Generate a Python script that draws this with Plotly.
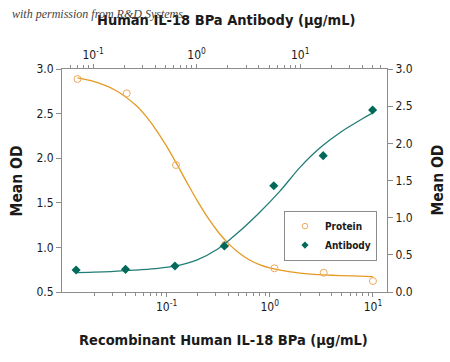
import plotly.graph_objects as go

# ---- data ----
protein_conc = [0.01372, 0.04115, 0.1235, 0.3704, 1.111, 3.333, 10.0]          # µg/mL, bottom axis
protein_od = [2.888, 2.727, 1.924, 1.03, 0.766, 0.716, 0.623]                   # left axis

antibody_conc = [0.0686, 0.2058, 0.6173, 1.852, 5.556, 16.67, 50.0]             # µg/mL, top axis
antibody_od = [0.296, 0.305, 0.35, 0.619, 1.43, 1.834, 2.448]                   # right axis

# fitted curves
protein_fit_x = [0.01372, 0.01995, 0.03162, 0.05012, 0.0631, 0.07943, 0.1, 0.1259, 0.1585,
                 0.1995, 0.2512, 0.3162, 0.3981, 0.5012, 0.631, 0.7943, 1.0, 1.585,
                 2.512, 3.981, 6.31, 10.0]
protein_fit_y = [2.90, 2.858, 2.765, 2.596, 2.471, 2.316, 2.135, 1.933, 1.723,
                 1.519, 1.333, 1.173, 1.042, 0.940, 0.862, 0.808, 0.770, 0.725,
                 0.700, 0.688, 0.680, 0.672]

antibody_fit_x = [0.0686, 0.1585, 0.2512, 0.3981, 0.631, 1.0, 1.585, 2.512, 3.981,
                  6.31, 10.0, 15.85, 25.12, 39.81, 50.0]
antibody_fit_y = [0.26, 0.278, 0.293, 0.315, 0.352, 0.43, 0.575, 0.80, 1.06,
                  1.35, 1.68, 1.95, 2.16, 2.33, 2.41]

series_names = ["Protein", "Antibody"]

bottom_major = [0.1, 1, 10]
bottom_major_text = ["10<sup>-1</sup>", "10<sup>0</sup>", "10<sup>1</sup>"]
bottom_minor = [0.02, 0.03, 0.04, 0.05, 0.06, 0.07, 0.08, 0.09,
                0.2, 0.3, 0.4, 0.5, 0.6, 0.7, 0.8, 0.9,
                2, 3, 4, 5, 6, 7, 8, 9]
top_major = [0.1, 1, 10]
top_major_text = ["10<sup>-1</sup>", "10<sup>0</sup>", "10<sup>1</sup>"]
top_minor = [0.06, 0.07, 0.08, 0.09,
             0.2, 0.3, 0.4, 0.5, 0.6, 0.7, 0.8, 0.9,
             2, 3, 4, 5, 6, 7, 8, 9,
             20, 30, 40, 50, 60]
left_ticks = [0.5, 1.0, 1.5, 2.0, 2.5, 3.0]
right_ticks = [0.0, 0.5, 1.0, 1.5, 2.0, 2.5, 3.0]

# ---- styling ----
FONT = "DejaVu Sans Condensed, Liberation Sans Narrow, Arial Narrow, sans-serif"
ORANGE_LINE = "#E59A22"
ORANGE_MK = "#EFA85A"
TEAL_LINE = "#217C77"
TEAL_MK = "#00695A"
AXIS = "#8C8C8C"
TXT = "#1a1a1a"

fig = go.Figure()

fig.add_trace(go.Scatter(x=protein_fit_x, y=protein_fit_y, mode="lines",
                         line=dict(color=ORANGE_LINE, width=1.3, shape="spline"),
                         xaxis="x", yaxis="y", showlegend=False, hoverinfo="skip"))
fig.add_trace(go.Scatter(x=antibody_fit_x, y=antibody_fit_y, mode="lines",
                         line=dict(color=TEAL_LINE, width=1.3, shape="spline"),
                         xaxis="x2", yaxis="y2", showlegend=False, hoverinfo="skip"))
fig.add_trace(go.Scatter(x=protein_conc, y=protein_od, mode="markers", name=series_names[0],
                         marker=dict(symbol="circle-open", size=7, color=ORANGE_MK,
                                     line=dict(width=1, color=ORANGE_MK)),
                         xaxis="x", yaxis="y", showlegend=False))
fig.add_trace(go.Scatter(x=antibody_conc, y=antibody_od, mode="markers", name=series_names[1],
                         marker=dict(symbol="diamond", size=7, color=TEAL_MK,
                                     line=dict(width=0)),
                         xaxis="x2", yaxis="y2", showlegend=False))

# legend-only entries with the smaller symbols seen in the legend box
fig.add_trace(go.Scatter(x=[None], y=[None], mode="markers", name="<b>" + series_names[0] + "</b>",
                         marker=dict(symbol="circle-open", size=5.5, color=ORANGE_MK,
                                     line=dict(width=1, color=ORANGE_MK)),
                         xaxis="x", yaxis="y", hoverinfo="skip"))
fig.add_trace(go.Scatter(x=[None], y=[None], mode="markers", name="<b>" + series_names[1] + "</b>",
                         marker=dict(symbol="diamond", size=5.5, color=TEAL_MK, line=dict(width=0)),
                         xaxis="x2", yaxis="y2", hoverinfo="skip"))

tickfont = dict(family=FONT, size=12, color=TXT)
minor_style = dict(ticks="outside", ticklen=3, tickcolor=AXIS, tickwidth=1, showgrid=False)

fig.update_layout(
    width=450, height=362,
    margin=dict(l=62, r=63, t=69, b=70),
    paper_bgcolor="white", plot_bgcolor="white",
    font=dict(family=FONT, color=TXT),
    xaxis=dict(type="log", range=[-2.013, 1.136], showgrid=False, zeroline=False,
               showline=True, linecolor=AXIS, linewidth=1,
               ticks="outside", ticklen=4, tickcolor=AXIS, tickwidth=1,
               tickmode="array", tickvals=bottom_major, ticktext=bottom_major_text,
               minor=dict(tickmode="array", tickvals=bottom_minor, **minor_style),
               tickfont=tickfont),
    xaxis2=dict(type="log", range=[-1.30, 1.838], overlaying="x", side="top",
                anchor="y", showgrid=False, zeroline=False,
                showline=True, linecolor=AXIS, linewidth=1,
                ticks="outside", ticklen=4, tickcolor=AXIS, tickwidth=1,
                tickmode="array", tickvals=top_major, ticktext=top_major_text,
                minor=dict(tickmode="array", tickvals=top_minor, **minor_style),
                tickfont=tickfont),
    yaxis=dict(range=[0.5, 3.0], showgrid=False, zeroline=False,
               showline=True, linecolor=AXIS, linewidth=1,
               ticks="outside", ticklen=5, tickcolor=AXIS,
               tickmode="array", tickvals=left_ticks, tickformat=".1f", tickfont=tickfont),
    yaxis2=dict(range=[0.0, 3.0], overlaying="y", side="right", anchor="x",
                showgrid=False, zeroline=False,
                showline=True, linecolor=AXIS, linewidth=1,
                ticks="outside", ticklen=5, tickcolor=AXIS,
                tickmode="array", tickvals=right_ticks, tickformat=".1f", tickfont=tickfont),
    legend=dict(x=0.683, y=0.365, xanchor="left", yanchor="top",
                bordercolor=AXIS, borderwidth=1, bgcolor="white",
                font=dict(family=FONT, size=10, color=TXT), itemwidth=30,
                tracegroupgap=0),
    showlegend=True,
)

title_font = dict(family=FONT, size=14.5, color=TXT)
fig.add_annotation(text="<b>Recombinant Human IL-18 BPa (μg/mL)</b>", x=0.497, y=-0.215,
                   xref="paper", yref="paper", showarrow=False, font=title_font,
                   xanchor="center", yanchor="middle")
fig.add_annotation(text="<b>Human IL-18 BPa Antibody (μg/mL)</b>", x=0.505, y=1.22,
                   xref="paper", yref="paper", showarrow=False, font=title_font,
                   xanchor="center", yanchor="middle")
fig.add_annotation(text="<b>Mean OD</b>", x=-0.1385, y=0.5, textangle=-90,
                   xref="paper", yref="paper", showarrow=False,
                   font=dict(family=FONT, size=15.5, color=TXT),
                   xanchor="center", yanchor="middle")
fig.add_annotation(text="<b>Mean OD</b>", x=1.154, y=0.5, textangle=-90,
                   xref="paper", yref="paper", showarrow=False,
                   font=dict(family=FONT, size=15.5, color=TXT),
                   xanchor="center", yanchor="middle")
fig.add_annotation(text="<i>with permission from R&amp;D Systems</i>", x=-0.16, y=1.2466,
                   xref="paper", yref="paper", showarrow=False,
                   font=dict(family="Liberation Serif, DejaVu Serif, serif", size=12, color="#444"),
                   xanchor="left", yanchor="middle")

fig.write_html("out.html", config={"displayModeBar": False},
               post_script="document.body.style.margin='0px';")
